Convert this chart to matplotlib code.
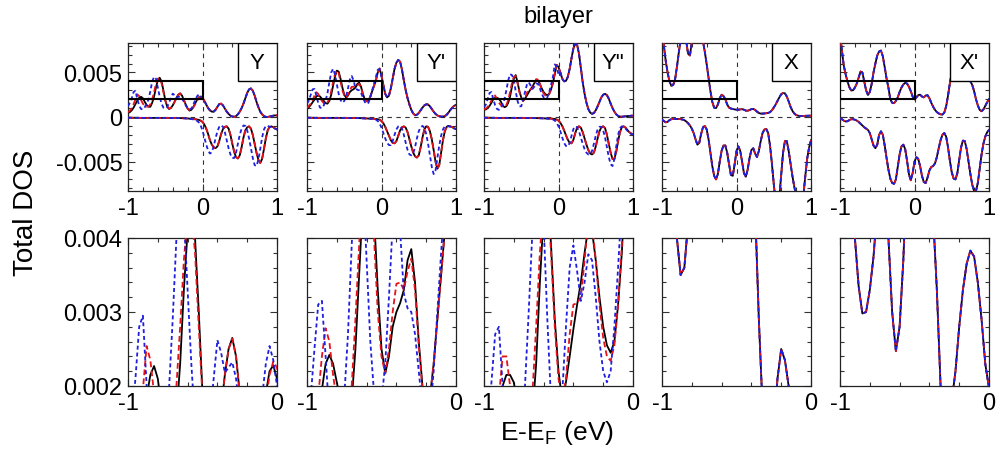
import numpy as np
import matplotlib
matplotlib.use("Agg")
import matplotlib.pyplot as plt
from matplotlib.patches import Rectangle
from matplotlib.ticker import MultipleLocator, FixedLocator, FixedFormatter

plt.rcParams['font.family'] = ['Liberation Sans', 'DejaVu Sans']
plt.rcParams['axes.unicode_minus'] = False
plt.rcParams['mathtext.fontset'] = 'custom'
plt.rcParams['mathtext.rm'] = 'Liberation Sans'

# Energy grid (eV, relative to E_F)
energy_occ = np.round(np.arange(-1.0, 0.0001, 0.025), 3)      # -1 ... 0   (41)
energy_unocc = np.round(np.arange(0.025, 1.0001, 0.025), 3)   # 0.025 ... 1 (40)
energy = np.concatenate([energy_occ, energy_unocc])

# Total DOS in units of 1e-3 states/eV
# ---- Y ----
Y_up_black = [0.45, 0.55, 0.75, 1.05, 1.45, 1.85, 2.15, 2.27, 2.10, 1.70,
              1.35, 1.15, 1.15, 1.60, 2.30, 3.30, 4.10, 4.40, 4.00, 3.00,
              1.90, 1.20, 0.90, 1.00, 1.30, 1.70, 2.15, 2.50, 2.65, 2.40,
              1.90, 1.40, 0.95, 0.72, 0.80, 1.10, 1.50, 1.90, 2.20, 2.28,
              2.10]
Y_up_red = [0.55, 0.70, 1.00, 1.45, 1.95, 2.54, 2.35, 1.90, 1.50, 1.25,
            1.15, 1.20, 1.40, 2.00, 2.80, 3.70, 4.30, 4.35, 3.80, 2.80,
            1.85, 1.20, 0.95, 1.00, 1.30, 1.70, 2.15, 2.50, 2.64, 2.40,
            1.90, 1.40, 0.95, 0.75, 0.80, 1.05, 1.40, 1.80, 2.15, 2.33,
            2.25]
Y_up_blue = [1.20, 1.60, 2.10, 2.80, 2.95, 2.00, 1.30, 0.90, 0.85, 1.10,
             1.50, 1.95, 2.90, 4.00, 4.50, 4.30, 3.30, 2.30, 1.50, 1.05,
             0.95, 1.10, 1.60, 2.10, 2.62, 2.45, 2.18, 2.25, 2.32, 2.10,
             1.70, 1.30, 1.00, 0.85, 0.95, 1.35, 1.85, 2.30, 2.54, 2.35,
             2.00]
Y_up_tail = [1.80, 1.40, 1.00, 0.75, 0.60, 0.60, 0.80, 1.15, 1.45, 1.50,
             1.30, 0.95, 0.60, 0.35, 0.15, 0.05, 0.02, 0.10, 0.30, 0.60,
             1.00, 1.50, 2.10, 2.70, 3.10, 3.20, 2.95, 2.40, 1.70, 1.10,
             0.60, 0.30, 0.10, 0.02, 0.00, 0.05, 0.10, 0.15, 0.18, 0.18]
Y_dn_kr = [-0.08, -0.08, -0.09, -0.09, -0.09, -0.09, -0.10, -0.10, -0.10, -0.10,
           -0.10, -0.10, -0.10, -0.10, -0.10, -0.10, -0.10, -0.10, -0.10, -0.10,
           -0.10, -0.10, -0.10, -0.11, -0.11, -0.11, -0.11, -0.12, -0.12, -0.13,
           -0.14, -0.15, -0.16, -0.18, -0.20, -0.22, -0.25, -0.28, -0.32, -0.40,
           -0.55,
           -0.85, -1.30, -1.90, -2.60, -3.10, -3.40, -3.50, -3.30, -2.70, -1.90,
           -1.35, -1.10, -1.05, -1.30, -2.00, -3.00, -3.90, -4.50, -4.65, -4.30,
           -3.40, -2.30, -1.50, -1.15, -1.05, -1.30, -2.00, -3.00, -4.00, -4.80,
           -5.15, -4.70, -3.60, -2.40, -1.50, -1.10, -1.05, -1.15, -1.30, -1.40]
Y_dn_blue = [-0.08, -0.08, -0.09, -0.09, -0.09, -0.09, -0.10, -0.10, -0.10, -0.10,
             -0.10, -0.10, -0.10, -0.10, -0.10, -0.10, -0.10, -0.10, -0.10, -0.10,
             -0.10, -0.10, -0.10, -0.11, -0.11, -0.11, -0.12, -0.12, -0.12, -0.13,
             -0.14, -0.16, -0.18, -0.20, -0.23, -0.27, -0.32, -0.42, -0.60, -0.95,
             -1.50,
             -2.30, -3.10, -3.75, -4.10, -3.95, -3.30, -2.40, -1.60, -1.10, -0.92,
             -1.10, -1.70, -2.60, -3.50, -4.20, -4.60, -4.60, -4.00, -3.00, -2.00,
             -1.30, -0.95, -1.00, -1.50, -2.40, -3.50, -4.60, -5.40, -5.50, -4.80,
             -3.60, -2.30, -1.40, -1.00, -1.00, -1.10, -1.15, -1.20, -1.30, -1.40]

# ---- Y' ----
Yp_up_black = [0.90, 1.10, 1.35, 1.65, 1.95, 2.30, 2.42, 2.30, 2.05, 1.80,
               1.55, 1.50, 1.80, 2.50, 3.50, 4.50, 5.20, 5.10, 4.30, 3.30,
               2.50, 2.17, 2.40, 2.80, 3.00, 3.12, 3.30, 3.70, 3.85, 3.40,
               2.60, 2.00, 1.80, 1.85, 2.30, 2.90, 3.50, 4.10, 5.00, 5.45,
               4.60]
Yp_up_red = [1.00, 1.25, 1.50, 1.85, 2.40, 2.78, 2.60, 2.15, 1.80, 1.55,
             1.45, 1.65, 2.00, 2.90, 3.90, 4.80, 5.20, 4.90, 4.00, 3.00,
             2.40, 2.17, 2.50, 3.00, 3.38, 3.40, 3.30, 3.55, 3.72, 3.30,
             2.55, 1.95, 1.75, 1.85, 2.30, 2.90, 3.50, 4.10, 5.00, 5.40,
             4.70]
Yp_up_blue = [1.50, 1.85, 2.50, 3.10, 3.15, 2.40, 1.60, 1.05, 1.00, 1.30,
              1.85, 2.70, 3.90, 5.00, 5.40, 4.80, 3.70, 2.60, 1.90, 1.60,
              1.80, 2.30, 3.20, 4.20, 4.60, 4.10, 3.25, 3.05, 3.00, 2.70,
              2.20, 1.70, 1.45, 1.60, 2.20, 3.00, 3.80, 4.50, 5.30, 5.35,
              4.50]
Yp_up_tail = [3.60, 2.60, 2.20, 2.40, 3.20, 4.30, 5.40, 6.10, 6.40, 6.20,
              5.30, 4.10, 3.00, 2.10, 1.40, 0.80, 0.40, 0.20, 0.25, 0.45,
              0.75, 1.05, 1.30, 1.42, 1.40, 1.20, 0.90, 0.60, 0.35, 0.18,
              0.08, 0.05, 0.05, 0.10, 0.25, 0.50, 0.80, 1.05, 1.25, 1.35]
Yp_dn_kr = [-0.08, -0.08, -0.09, -0.09, -0.09, -0.09, -0.10, -0.10, -0.10, -0.10,
            -0.10, -0.10, -0.10, -0.10, -0.10, -0.10, -0.10, -0.10, -0.10, -0.10,
            -0.10, -0.10, -0.10, -0.11, -0.11, -0.11, -0.11, -0.12, -0.12, -0.13,
            -0.14, -0.15, -0.16, -0.17, -0.18, -0.19, -0.20, -0.22, -0.25, -0.30,
            -0.45,
            -0.70, -1.10, -1.60, -2.10, -2.60, -2.90, -2.95, -2.70, -2.10, -1.50,
            -1.15, -1.05, -1.20, -1.70, -2.50, -3.30, -4.00, -4.40, -4.55, -4.30,
            -3.40, -2.30, -1.40, -1.05, -1.10, -1.60, -2.50, -3.70, -5.00, -5.80,
            -5.40, -4.00, -2.60, -1.60, -1.10, -1.00, -1.05, -1.15, -1.25, -1.35]
Yp_dn_blue = [-0.08, -0.08, -0.09, -0.09, -0.09, -0.09, -0.10, -0.10, -0.10, -0.10,
              -0.10, -0.10, -0.10, -0.10, -0.10, -0.10, -0.10, -0.10, -0.10, -0.10,
              -0.10, -0.10, -0.10, -0.11, -0.11, -0.11, -0.12, -0.12, -0.13, -0.14,
              -0.15, -0.16, -0.17, -0.18, -0.19, -0.20, -0.22, -0.30, -0.45, -0.75,
              -1.20,
              -1.80, -2.40, -2.90, -3.15, -3.15, -2.70, -2.00, -1.40, -1.05, -1.00,
              -1.30, -2.00, -2.90, -3.70, -4.20, -4.30, -4.10, -3.40, -2.40, -1.60,
              -1.15, -1.00, -1.20, -1.90, -3.00, -4.30, -5.60, -6.40, -6.00, -4.60,
              -3.20, -2.10, -1.40, -1.05, -1.00, -1.05, -1.10, -1.20, -1.30, -1.35]

# ---- Y'' ----
Ypp_up_black = [0.80, 0.85, 1.00, 1.25, 1.60, 2.00, 2.15, 2.15, 2.05, 1.75,
                1.30, 1.10, 1.20, 1.60, 2.30, 3.40, 4.30, 4.70, 3.90, 2.90,
                2.20, 1.80, 2.05, 2.40, 2.77, 3.10, 3.40, 3.80, 4.15, 4.10,
                3.70, 3.20, 2.80, 2.55, 2.45, 2.60, 3.10, 3.80, 4.80, 5.85,
                5.60]
Ypp_up_red = [0.85, 0.95, 1.15, 1.45, 1.85, 2.40, 2.40, 2.00, 1.60, 1.35,
              1.20, 1.15, 1.35, 1.90, 2.80, 3.80, 4.50, 4.60, 3.80, 2.80,
              2.10, 1.80, 2.10, 2.70, 3.10, 3.12, 3.20, 3.70, 4.25, 4.20,
              3.70, 3.10, 2.65, 2.40, 2.34, 2.55, 3.10, 3.90, 4.90, 5.85,
              5.60]
Ypp_up_blue = [1.10, 1.40, 2.05, 2.70, 2.80, 2.00, 1.30, 0.90, 0.80, 1.00,
               1.40, 2.00, 3.00, 4.10, 4.80, 4.70, 4.20, 2.90, 1.80, 1.20,
               1.20, 1.90, 2.80, 3.60, 3.90, 3.55, 3.15, 3.40, 3.78, 3.70,
               3.20, 2.60, 2.20, 2.05, 2.20, 2.80, 3.60, 4.50, 5.90, 5.70,
               4.80]
Ypp_up_tail = [5.00, 4.30, 4.00, 4.05, 4.50, 5.40, 6.60, 7.70, 8.20, 8.10,
               7.10, 5.50, 3.90, 2.60, 1.60, 0.90, 0.50, 0.35, 0.45, 0.75,
               1.20, 1.70, 2.20, 2.50, 2.60, 2.45, 2.05, 1.50, 1.00, 0.60,
               0.30, 0.12, 0.05, 0.03, 0.05, 0.08, 0.10, 0.12, 0.14, 0.15]
Ypp_dn_kr = [-0.08, -0.08, -0.09, -0.09, -0.09, -0.09, -0.10, -0.10, -0.10, -0.10,
             -0.10, -0.10, -0.10, -0.10, -0.10, -0.10, -0.10, -0.10, -0.10, -0.10,
             -0.10, -0.10, -0.10, -0.11, -0.11, -0.11, -0.11, -0.12, -0.12, -0.13,
             -0.13, -0.14, -0.15, -0.16, -0.17, -0.17, -0.18, -0.20, -0.22, -0.28,
             -0.40,
             -0.65, -1.00, -1.50, -2.05, -2.55, -2.90, -2.95, -2.55, -1.80, -1.20,
             -1.05, -1.20, -1.70, -2.40, -3.10, -3.70, -4.10, -4.20, -4.00, -3.30,
             -2.40, -1.60, -1.15, -1.05, -1.25, -2.00, -3.00, -4.00, -4.70, -4.70,
             -3.90, -2.70, -1.70, -1.15, -1.05, -1.20, -1.45, -1.70, -1.85, -1.95]
Ypp_dn_blue = [-0.08, -0.08, -0.09, -0.09, -0.09, -0.09, -0.10, -0.10, -0.10, -0.10,
               -0.10, -0.10, -0.10, -0.10, -0.10, -0.10, -0.10, -0.10, -0.10, -0.10,
               -0.10, -0.10, -0.10, -0.11, -0.11, -0.11, -0.12, -0.12, -0.13, -0.14,
               -0.14, -0.15, -0.16, -0.17, -0.18, -0.19, -0.22, -0.28, -0.40, -0.65,
               -1.05,
               -1.60, -2.30, -2.90, -3.25, -3.30, -2.90, -2.10, -1.35, -1.05, -1.15,
               -1.60, -2.30, -3.00, -3.60, -4.00, -4.20, -4.20, -3.80, -3.00, -2.10,
               -1.40, -1.10, -1.10, -1.50, -2.30, -3.40, -4.50, -5.30, -5.50, -4.70,
               -3.30, -2.00, -1.25, -1.05, -1.10, -1.30, -1.55, -1.75, -1.90, -1.95]

# ---- X (the three stackings coincide) ----
X_up = [9.50, 8.00, 6.30, 5.00, 4.00, 3.50, 3.60, 4.20, 5.60, 7.20,
        8.70, 9.60, 9.40, 8.50, 7.10, 6.90, 8.40, 9.50, 10.0, 10.0,
        9.80, 9.20, 8.50, 7.30, 5.90, 4.40, 2.90, 1.70, 1.05, 1.00,
        1.40, 2.10, 2.50, 2.35, 2.00, 1.40, 1.05, 0.95, 0.90, 0.85,
        0.82,
        0.82, 0.85, 0.88, 0.82, 0.72, 0.70, 0.78, 0.88, 0.90, 0.80,
        0.60, 0.45, 0.38, 0.38, 0.40, 0.42, 0.45, 0.55, 0.75, 1.05,
        1.40, 1.80, 2.20, 2.55, 2.70, 2.65, 2.30, 1.75, 1.15, 0.70,
        0.40, 0.22, 0.15, 0.12, 0.12, 0.12, 0.13, 0.14, 0.15, 0.15]
X_dn = [-0.30, -0.45, -0.60, -0.55, -0.35, -0.25, -0.22, -0.22, -0.22, -0.22,
        -0.24, -0.28, -0.35, -0.50, -0.70, -0.95, -1.30, -1.80, -2.50, -3.10,
        -2.90, -1.90, -1.15, -1.00, -1.40, -2.50, -4.00, -5.50, -6.60, -7.00,
        -6.40, -5.00, -3.80, -3.20, -3.20, -4.00, -5.30, -6.50, -6.60, -5.30,
        -3.80,
        -3.30, -3.80, -5.00, -6.30, -6.70, -5.90, -4.60, -3.70, -3.50, -4.10,
        -4.50, -3.80, -2.70, -1.80, -1.40, -1.35, -1.80, -3.20, -5.20, -7.50,
        -9.50, -10.0, -9.00, -6.50, -4.00, -2.70, -2.70, -3.80, -5.20, -6.60,
        -7.80, -8.80, -9.60, -10.0, -9.80, -8.60, -6.50, -4.60, -3.40, -2.60]

# ---- X' ----
Xp_up = [9.50, 7.50, 5.80, 4.80, 4.00, 3.35, 2.98, 3.00, 3.30, 3.75,
         4.40, 5.10, 5.00, 4.00, 3.00, 2.47, 2.80, 3.70, 5.00, 6.00,
         6.90, 7.35, 7.45, 6.80, 5.60, 4.30, 3.30, 2.00, 1.60, 1.55,
         1.80, 2.20, 2.80, 3.30, 3.65, 3.83, 3.75, 3.40, 2.90, 2.30,
         1.97,
         2.20, 2.45, 2.50, 2.30, 2.20, 2.40, 2.45, 2.10, 1.60, 1.15,
         0.80, 0.55, 0.40, 0.30, 0.27, 0.50, 1.20, 2.40, 3.80, 5.00,
         6.00, 6.80, 7.20, 7.30, 7.00, 6.40, 5.60, 4.80, 4.30, 4.00,
         3.60, 2.90, 2.00, 1.30, 0.80, 0.65, 0.85, 1.25, 1.65, 2.00]
Xp_dn = [-0.15, -0.25, -0.40, -0.50, -0.48, -0.35, -0.25, -0.25, -0.30, -0.40,
         -0.55, -0.75, -0.95, -1.15, -1.30, -1.45, -1.80, -2.50, -3.20, -3.50,
         -3.10, -2.00, -1.60, -2.00, -3.20, -4.60, -5.90, -6.90, -7.40, -7.50,
         -7.00, -5.60, -4.20, -3.30, -3.10, -3.60, -4.90, -6.40, -7.10, -6.30,
         -5.00,
         -4.50, -4.70, -5.50, -6.60, -7.30, -7.40, -6.80, -6.00, -5.60, -5.50,
         -5.20, -4.50, -3.50, -2.60, -2.00, -1.80, -2.20, -3.40, -4.90, -6.20,
         -6.90, -7.00, -6.30, -4.80, -3.40, -2.65, -2.70, -3.60, -5.00, -6.40,
         -7.60, -8.30, -8.30, -7.40, -5.80, -4.20, -3.00, -2.20, -1.70, -1.45]

panel_names = ["Y", "Y'", 'Y"', "X", "X'"]
up_series = [
    (Y_up_black + Y_up_tail, Y_up_red + Y_up_tail, Y_up_blue + Y_up_tail),
    (Yp_up_black + Yp_up_tail, Yp_up_red + Yp_up_tail, Yp_up_blue + Yp_up_tail),
    (Ypp_up_black + Ypp_up_tail, Ypp_up_red + Ypp_up_tail, Ypp_up_blue + Ypp_up_tail),
    (X_up, X_up, X_up),
    (Xp_up, Xp_up, Xp_up),
]
dn_series = [
    (Y_dn_kr, Y_dn_kr, Y_dn_blue),
    (Yp_dn_kr, Yp_dn_kr, Yp_dn_blue),
    (Ypp_dn_kr, Ypp_dn_kr, Ypp_dn_blue),
    (X_dn, X_dn, X_dn),
    (Xp_dn, Xp_dn, Xp_dn),
]

line_styles = [
    dict(color='black', lw=1.3, ls='-', zorder=2),
    dict(color='#e3121b', lw=1.3, ls=(0, (3.2, 1.8)), zorder=3),
    dict(color='#1f1fe0', lw=1.3, ls=(0, (2.2, 1.6)), zorder=4),
]

W, H = 998, 456
fig = plt.figure(figsize=(W / 100, H / 100), dpi=100)

lefts_px = [128, 307, 484, 662, 840]
panel_w = 149
top_row = (44, 192)
bottom_row = (239, 387)

tick_fs = 17


def make_axes(left, row):
    y0, y1 = row
    return fig.add_axes([left / W, (H - y1) / H, panel_w / W, (y1 - y0) / H])


def style_axes(ax):
    for sp in ax.spines.values():
        sp.set_linewidth(0.9)
        sp.set_color('#222222')
    ax.tick_params(which='both', direction='in', top=True, right=True,
                   labelsize=tick_fs, width=0.8, color='#333333')
    ax.tick_params(which='major', length=5, pad=4)
    ax.tick_params(which='minor', length=3)


for i, name in enumerate(panel_names):
    # upper panel: full window, both spins
    ax = make_axes(lefts_px[i], top_row)
    for data, st in zip(up_series[i], line_styles):
        ax.plot(energy, np.array(data) * 1e-3, **st)
    for data, st in zip(dn_series[i], line_styles):
        ax.plot(energy, np.array(data) * 1e-3, **st)
    ax.axhline(0, color='#333333', lw=0.8, ls=(0, (4, 4)), zorder=1)
    ax.axvline(0, color='#333333', lw=0.8, ls=(0, (4, 4)), zorder=1)
    ax.add_patch(Rectangle((-1, 0.002), 1, 0.002, fill=False, ec='black',
                           lw=1.5, zorder=5))
    ax.add_patch(Rectangle((0.735, 0.74), 0.265, 0.26, transform=ax.transAxes,
                           fc='white', ec='black', lw=1.0, zorder=6))
    ax.text(0.8675, 0.87, name, transform=ax.transAxes, ha='center',
            va='center', fontsize=16, zorder=7)
    ax.set_xlim(-1, 1)
    ax.set_ylim(-0.0083, 0.0083)
    ax.xaxis.set_major_locator(FixedLocator([-1, 0, 1]))
    ax.xaxis.set_major_formatter(FixedFormatter(['-1', '0', '1']))
    ax.xaxis.set_minor_locator(MultipleLocator(0.2))
    ax.yaxis.set_major_locator(FixedLocator([-0.005, 0, 0.005]))
    ax.yaxis.set_minor_locator(MultipleLocator(0.001))
    if i == 0:
        ax.yaxis.set_major_formatter(FixedFormatter(['-0.005', '0', '0.005']))
    else:
        ax.set_yticklabels([])
    style_axes(ax)

    # lower panel: zoom on the occupied window marked by the box
    bx = make_axes(lefts_px[i], bottom_row)
    for data, st in zip(up_series[i], line_styles):
        bx.plot(energy, np.array(data) * 1e-3, **st)
    bx.set_xlim(-1, 0)
    bx.set_ylim(0.002, 0.004)
    bx.xaxis.set_major_locator(FixedLocator([-1, 0]))
    bx.xaxis.set_major_formatter(FixedFormatter(['-1', '0']))
    bx.xaxis.set_minor_locator(MultipleLocator(0.2))
    bx.yaxis.set_major_locator(FixedLocator([0.002, 0.003, 0.004]))
    bx.yaxis.set_minor_locator(MultipleLocator(0.0002))
    if i == 0:
        bx.yaxis.set_major_formatter(FixedFormatter(['0.002', '0.003', '0.004']))
    else:
        bx.set_yticklabels([])
    style_axes(bx)

fig.text(0.559, 0.963, 'bilayer', ha='center', va='center', fontsize=17)
fig.text(0.558, 0.05, r'E-E$_\mathregular{F}$ (eV)', ha='center', va='center',
         fontsize=19)
fig.text(0.026, 0.533, 'Total DOS', ha='center', va='center', rotation=90,
         fontsize=20)

fig.savefig('out.png', dpi=100)
